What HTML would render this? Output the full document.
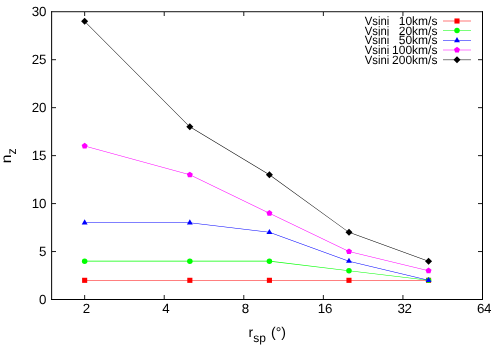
<!DOCTYPE html>
<html><head><meta charset="utf-8"><title>plot</title>
<style>html,body{margin:0;padding:0;background:#fff;}svg{display:block;will-change:transform;}</style></head>
<body>
<svg width="500" height="350" viewBox="0 0 500 350">
<rect width="500" height="350" fill="#ffffff"/>
<g font-family="'Liberation Sans', sans-serif" font-size="12" fill="#000" text-rendering="geometricPrecision">
<g fill="#000" stroke="none">
<rect x="52" y="251.04" width="4" height="1" fill="#1c1c1c"/>
<rect x="478" y="251.04" width="4.5" height="1" fill="#1c1c1c"/>
<rect x="52" y="203.08" width="4" height="1" fill="#1c1c1c"/>
<rect x="478" y="203.08" width="4.5" height="1" fill="#1c1c1c"/>
<rect x="52" y="155.12" width="4" height="1" fill="#1c1c1c"/>
<rect x="478" y="155.12" width="4.5" height="1" fill="#1c1c1c"/>
<rect x="52" y="107.15" width="4" height="1" fill="#1c1c1c"/>
<rect x="478" y="107.15" width="4.5" height="1" fill="#1c1c1c"/>
<rect x="52" y="59.19" width="4" height="1" fill="#1c1c1c"/>
<rect x="478" y="59.19" width="4.5" height="1" fill="#1c1c1c"/>
<rect x="84.15" y="295" width="1" height="4.5" fill="#1c1c1c"/>
<rect x="84.15" y="12" width="1" height="4" fill="#1c1c1c"/>
<rect x="163.72" y="295" width="1" height="4.5" fill="#1c1c1c"/>
<rect x="163.72" y="12" width="1" height="4" fill="#1c1c1c"/>
<rect x="243.29" y="295" width="1" height="4.5" fill="#1c1c1c"/>
<rect x="243.29" y="12" width="1" height="4" fill="#1c1c1c"/>
<rect x="322.86" y="295" width="1" height="4.5" fill="#1c1c1c"/>
<rect x="322.86" y="12" width="1" height="4" fill="#1c1c1c"/>
<rect x="402.43" y="295" width="1" height="4.5" fill="#1c1c1c"/>
<rect x="402.43" y="12" width="1" height="4" fill="#1c1c1c"/>
<rect x="51.13" y="11.27" width="1" height="288.73"/>
<rect x="51.13" y="11.27" width="431.87" height="0.93"/>
<rect x="482" y="11.27" width="1" height="288.73"/>
<rect x="51.13" y="299" width="431.87" height="1"/>
</g>
<text x="46.0" y="304.00" font-size="13.33" letter-spacing="-0.3" text-anchor="end">0</text>
<text x="46.0" y="256.04" font-size="13.33" letter-spacing="-0.3" text-anchor="end">5</text>
<text x="46.0" y="208.08" font-size="13.33" letter-spacing="-0.3" text-anchor="end">10</text>
<text x="46.0" y="160.12" font-size="13.33" letter-spacing="-0.3" text-anchor="end">15</text>
<text x="46.0" y="112.15" font-size="13.33" letter-spacing="-0.3" text-anchor="end">20</text>
<text x="46.0" y="64.19" font-size="13.33" letter-spacing="-0.3" text-anchor="end">25</text>
<text x="46.0" y="16.23" font-size="13.33" letter-spacing="-0.3" text-anchor="end">30</text>
<text x="86.25" y="313.3" font-size="13.33" letter-spacing="-0.3" text-anchor="middle">2</text>
<text x="165.82" y="313.3" font-size="13.33" letter-spacing="-0.3" text-anchor="middle">4</text>
<text x="245.39" y="313.3" font-size="13.33" letter-spacing="-0.3" text-anchor="middle">8</text>
<text x="324.96" y="313.3" font-size="13.33" letter-spacing="-0.3" text-anchor="middle">16</text>
<text x="404.53" y="313.3" font-size="13.33" letter-spacing="-0.3" text-anchor="middle">32</text>
<text x="484.10" y="313.3" font-size="13.33" letter-spacing="-0.3" text-anchor="middle">64</text>
<text x="364.7" y="24.90" textLength="24.5" lengthAdjust="spacingAndGlyphs">Vsini</text>
<text x="437.4" y="24.90" text-anchor="end">10km/s</text>
<rect x="443" y="20.740" width="28" height="0.52" fill="#ff0000"/>
<path d="M84.654,280.575L189.839,280.575L189.839,280.055L84.654,280.055ZM189.839,280.575L269.408,280.575L269.408,280.055L189.839,280.055ZM269.408,280.575L348.977,280.575L348.977,280.055L269.408,280.055ZM348.977,280.575L428.546,280.575L428.546,280.055L348.977,280.055Z" fill="#ff0000" stroke="none"/>
<rect x="454.45" y="18.45" width="5.1" height="5.1" fill="#ff0000"/>
<rect x="82.10" y="277.77" width="5.1" height="5.1" fill="#ff0000"/>
<rect x="187.29" y="277.77" width="5.1" height="5.1" fill="#ff0000"/>
<rect x="266.86" y="277.77" width="5.1" height="5.1" fill="#ff0000"/>
<rect x="346.43" y="277.77" width="5.1" height="5.1" fill="#ff0000"/>
<rect x="426.00" y="277.77" width="5.1" height="5.1" fill="#ff0000"/>
<text x="364.7" y="34.62" textLength="24.5" lengthAdjust="spacingAndGlyphs">Vsini</text>
<text x="437.4" y="34.62" text-anchor="end">20km/s</text>
<rect x="443" y="30.240" width="28" height="0.52" fill="#00ff00"/>
<path d="M84.654,261.391L189.839,261.391L189.839,260.871L84.654,260.871ZM189.839,261.391L269.408,261.391L269.408,260.871L189.839,260.871ZM269.377,261.389L348.946,270.981L349.008,270.465L269.439,260.873ZM348.946,270.981L428.515,280.573L428.578,280.057L349.008,270.465Z" fill="#00ff00" stroke="none"/>
<circle cx="457.00" cy="30.50" r="2.75" fill="#00ff00"/>
<circle cx="84.65" cy="261.13" r="2.75" fill="#00ff00"/>
<circle cx="189.84" cy="261.13" r="2.75" fill="#00ff00"/>
<circle cx="269.41" cy="261.13" r="2.75" fill="#00ff00"/>
<circle cx="348.98" cy="270.72" r="2.75" fill="#00ff00"/>
<circle cx="428.55" cy="280.32" r="2.75" fill="#00ff00"/>
<text x="364.7" y="44.34" textLength="24.5" lengthAdjust="spacingAndGlyphs">Vsini</text>
<text x="437.4" y="44.34" text-anchor="end">50km/s</text>
<rect x="443" y="40.240" width="28" height="0.52" fill="#0000ff"/>
<path d="M84.654,223.021L189.839,223.021L189.839,222.501L84.654,222.501ZM189.808,223.019L269.377,232.612L269.439,232.096L189.870,222.503ZM269.320,232.598L348.889,261.375L349.066,260.886L269.496,232.109ZM348.916,261.383L428.485,280.568L428.607,280.063L349.038,260.878Z" fill="#0000ff" stroke="none"/>
<polygon points="457.00,37.10 454.06,42.20 459.94,42.20" fill="#0000ff"/>
<polygon points="84.65,219.36 81.71,224.46 87.60,224.46" fill="#0000ff"/>
<polygon points="189.84,219.36 186.89,224.46 192.78,224.46" fill="#0000ff"/>
<polygon points="269.41,228.95 266.46,234.05 272.35,234.05" fill="#0000ff"/>
<polygon points="348.98,257.73 346.03,262.83 351.92,262.83" fill="#0000ff"/>
<polygon points="428.55,276.92 425.60,282.02 431.49,282.02" fill="#0000ff"/>
<text x="364.7" y="54.06" textLength="24.5" lengthAdjust="spacingAndGlyphs">Vsini</text>
<text x="437.4" y="54.06" text-anchor="end">100km/s</text>
<rect x="443" y="49.740" width="28" height="0.52" fill="#ff00ff"/>
<path d="M84.586,146.273L189.770,175.050L189.908,174.549L84.723,145.772ZM189.726,175.034L269.295,213.403L269.521,212.935L189.952,174.565ZM269.295,213.403L348.864,251.773L349.090,251.304L269.521,212.935ZM348.916,251.791L428.485,270.976L428.607,270.470L349.038,251.286Z" fill="#ff00ff" stroke="none"/>
<polygon points="457.00,46.85 460.00,49.03 458.85,52.55 455.15,52.55 454.00,49.03" fill="#ff00ff"/>
<polygon points="84.65,142.87 87.65,145.05 86.51,148.57 82.80,148.57 81.66,145.05" fill="#ff00ff"/>
<polygon points="189.84,171.65 192.83,173.83 191.69,177.35 187.99,177.35 186.84,173.83" fill="#ff00ff"/>
<polygon points="269.41,210.02 272.40,212.20 271.26,215.72 267.56,215.72 266.41,212.20" fill="#ff00ff"/>
<polygon points="348.98,248.39 351.97,250.56 350.83,254.09 347.13,254.09 345.98,250.56" fill="#ff00ff"/>
<polygon points="428.55,267.57 431.54,269.75 430.40,273.27 426.69,273.27 425.55,269.75" fill="#ff00ff"/>
<text x="364.7" y="63.78" textLength="24.5" lengthAdjust="spacingAndGlyphs">Vsini</text>
<text x="437.4" y="63.78" text-anchor="end">200km/s</text>
<rect x="443" y="59.590" width="28" height="0.52" fill="#000000"/>
<path d="M84.470,21.506L189.655,127.022L190.023,126.654L84.838,21.139ZM189.705,127.061L269.274,175.022L269.542,174.577L189.973,126.615ZM269.256,175.010L348.825,232.564L349.130,232.143L269.560,174.589ZM348.889,232.598L428.458,261.375L428.635,260.886L349.066,232.109Z" fill="#000000" stroke="none"/>
<polygon points="457.00,56.35 460.50,59.85 457.00,63.35 453.50,59.85" fill="#000000"/>
<polygon points="84.65,17.82 88.15,21.32 84.65,24.82 81.15,21.32" fill="#000000"/>
<polygon points="189.84,123.34 193.34,126.84 189.84,130.34 186.34,126.84" fill="#000000"/>
<polygon points="269.41,171.30 272.91,174.80 269.41,178.30 265.91,174.80" fill="#000000"/>
<polygon points="348.98,228.85 352.48,232.35 348.98,235.85 345.48,232.35" fill="#000000"/>
<polygon points="428.55,257.63 432.05,261.13 428.55,264.63 425.05,261.13" fill="#000000"/>
<text x="248.6" y="337.2" font-size="14">r<tspan dy="4.4" font-size="12">sp</tspan><tspan dy="-4.4" dx="1.2"> (°)</tspan></text>
<text transform="translate(11.3,163.2) rotate(-90) scale(1.12,1)" font-size="14">n</text><text transform="translate(11.3,162.6) rotate(-90)" font-size="12.5" x="8.18" y="4.7">z</text>
</g></svg>
</body></html>
